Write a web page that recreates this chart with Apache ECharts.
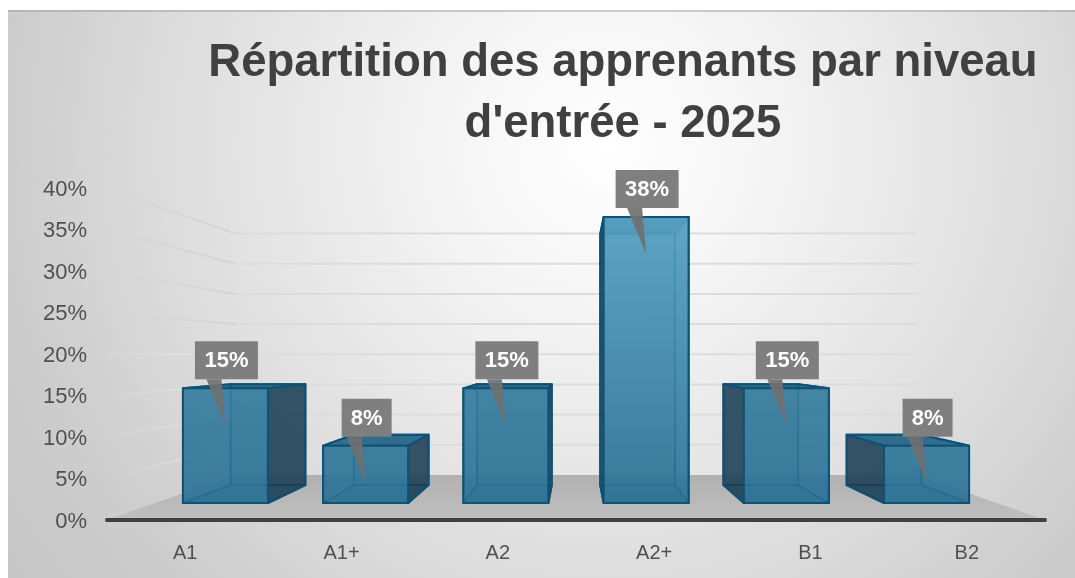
<!DOCTYPE html>
<html><head><meta charset="utf-8">
<style>html,body{margin:0;padding:0;background:#fff}#c{width:1075px;height:578px}</style>
<script src="https://cdn.jsdelivr.net/npm/echarts@6/dist/echarts.min.js"></script>
</head><body><div id="c"></div>
<script>
const categories = ['A1','A1+','A2','A2+','B1','B2'];
const values = [15.4, 7.7, 15.4, 38.4, 15.4, 7.7];
const yTicks = [0,5,10,15,20,25,30,35,40];
const titleText = "Répartition des apprenants par niveau\nd'entrée - 2025";

// perspective of the 3D scene: front plane = the cartesian grid
const VP = [576, 355], S_BACK = 0.727, S_BAR_FRONT = 0.897, S_BAR_BACK = 0.788, BAR_BAND = 0.606;
const proj = (p, s) => [VP[0] + (p[0]-VP[0])*s, VP[1] + (p[1]-VP[1])*s];

function renderScene(params, api) {
  const v = api.value(0);
  const cs = params.coordSys;
  const L = cs.x, R = cs.x + cs.width;
  const y = api.coord([0, v])[1];
  const a = proj([L,y], S_BACK), b = proj([R,y], S_BACK);
  const children = [];
  if (v === 0) {
    children.push({type:'polygon', shape:{points:[[L,y],a,b,[R,y]]},
      style:{fill:{type:'linear',x:0,y:0,x2:0,y2:1,colorStops:[{offset:0,color:'#b1b1b1'},{offset:1,color:'#bfbfbf'}]}}});
  } else {
    children.push({type:'line', shape:{x1:a[0],y1:a[1],x2:b[0],y2:b[1]}, style:{stroke:'#dcdcdc',lineWidth:2}});
    const rgb = v >= 25 ? '212,212,212' : '232,232,232';
    const start = v >= 35 ? 0.7 : (v >= 25 ? 0.3 : 0);
    const end = v >= 25 ? 1 : 0.7;
    children.push({type:'line', shape:{x1:L,y1:y,x2:a[0],y2:a[1]}, style:{lineWidth:2,
      stroke:{type:'linear',x:0,y:0,x2:1,y2:0,colorStops:[{offset:0,color:'rgba('+rgb+','+start+')'},{offset:1,color:'rgba('+rgb+','+end+')'}]}}});
  }
  return {type:'group', children};
}

function renderBar(params, api) {
  const i = api.value(0), v = api.value(1);
  const c = api.coord([i, 0]), t = api.coord([i, v]);
  const hw = api.size([1,0])[0]*BAR_BAND/2;
  const P = (x,y,s)=>proj([x,y],s);
  const fbl=P(c[0]-hw,c[1],S_BAR_FRONT), fbr=P(c[0]+hw,c[1],S_BAR_FRONT), ftl=P(c[0]-hw,t[1],S_BAR_FRONT), ftr=P(c[0]+hw,t[1],S_BAR_FRONT);
  const bbl=P(c[0]-hw,c[1],S_BAR_BACK), bbr=P(c[0]+hw,c[1],S_BAR_BACK), btl=P(c[0]-hw,t[1],S_BAR_BACK), btr=P(c[0]+hw,t[1],S_BAR_BACK);
  const edge='#0f5274';
  const sideFill='rgba(30,62,82,0.84)', topFill='rgba(28,95,130,0.85)';
  const k=Math.pow(v/40,2);
  const topCol='rgba('+Math.round(52+38*k)+','+Math.round(120+44*k)+','+Math.round(154+44*k)+',0.92)';
  const frontFill={type:'linear',global:true,x:0,y:ftl[1],x2:0,y2:fbl[1],
    colorStops:[{offset:0,color:topCol},{offset:1,color:'rgba(42,112,148,0.88)'}]};
  const face=(pts,fill,z2)=>({type:'polygon',z2,shape:{points:pts},style:{fill,stroke:edge,lineWidth:2,lineJoin:'round'}});
  const ch=[];
  ch.push(face([bbl,bbr,btr,btl],'rgba(40,110,145,0.35)',1));
  ch.push(face([fbl,fbr,bbr,bbl],'rgba(30,100,140,0.45)',2));
  const leftSide = c[0] > VP[0];
  ch.push(face(leftSide?[fbl,bbl,btl,ftl]:[fbr,bbr,btr,ftr],sideFill,3));
  ch.push(face(leftSide?[fbr,bbr,btr,ftr]:[fbl,bbl,btl,ftl],'rgba(30,100,140,0.2)',2));
  ch.push(face([ftl,ftr,btr,btl],topFill,4));
  ch.push(face([fbl,fbr,ftr,ftl],frontFill,5));
  // data label callout
  const tipX=(ftl[0]+ftr[0])/2, tipY=ftl[1]+37;
  const txt=Math.round(v)+'%';
  const w=txt.length>2?63:50, h=38;
  const ry=tipY-46-h;
  ch.push({type:'polygon',z2:7,shape:{points:[[tipX-19,ry+h],[tipX-4,ry+h],[tipX,tipY]]},style:{fill:'rgba(112,112,112,0.92)'}});
  ch.push({type:'rect',z2:8,shape:{x:tipX-w/2+1,y:ry,width:w,height:h},style:{fill:'#7f7f7f'}});
  ch.push({type:'text',z2:9,style:{x:tipX+1,y:ry+h/2+1,text:txt,fill:'#fff',font:'bold 22px "Liberation Sans"',align:'center',verticalAlign:'middle'}});
  return {type:'group',children:ch};
}

const chart = echarts.init(document.getElementById('c'), null, {renderer:'canvas'});
chart.setOption({
  animation:false,
  backgroundColor:'#fff',
  graphic:[
    {type:'rect',z:-10,silent:true,shape:{x:8,y:10,width:1067,height:568},
      style:{fill:{type:'radial',x:0.56,y:0.24,r:1.35,colorStops:[{offset:0,color:'#ffffff'},{offset:0.2,color:'#f5f5f5'},{offset:0.58,color:'#dcdcdc'},{offset:0.78,color:'#cdcdcd'},{offset:1,color:'#c4c4c4'}]}}},
    {type:'rect',z:-9,silent:true,shape:{x:8,y:10,width:1067,height:2},style:{fill:'rgba(150,150,150,0.45)'}}
  ],
  title:{text:titleText,left:618,top:27.5,textAlign:'center',
    textStyle:{fontFamily:'Liberation Sans',fontWeight:'bold',fontSize:45.5,lineHeight:61,color:'#404040'}},
  grid:{left:107,right:30,top:188,bottom:58},
  xAxis:{type:'category',data:categories,z:5,
    axisLine:{show:true,lineStyle:{color:'#404040',width:4,cap:'round'}},axisTick:{show:false},
    axisLabel:{color:'#505050',fontSize:20,margin:23,fontFamily:'Liberation Sans'},splitLine:{show:false}},
  yAxis:{type:'value',min:0,max:40,interval:5,axisLine:{show:false},axisTick:{show:false},splitLine:{show:false},
    axisLabel:{formatter:'{value}%',color:'#505050',fontSize:22,margin:20,verticalAlign:'top',lineHeight:3,fontFamily:'Liberation Sans'}},
  series:[
    {type:'custom',coordinateSystem:'cartesian2d',z:2,silent:true,clip:false,data:yTicks.map(t=>[t]),encode:{y:0},renderItem:renderScene},
    {type:'custom',coordinateSystem:'cartesian2d',z:3,silent:true,clip:false,data:categories.map((c,i)=>[i,values[i]]),encode:{x:0,y:1},renderItem:renderBar}
  ]
});
</script></body></html>
